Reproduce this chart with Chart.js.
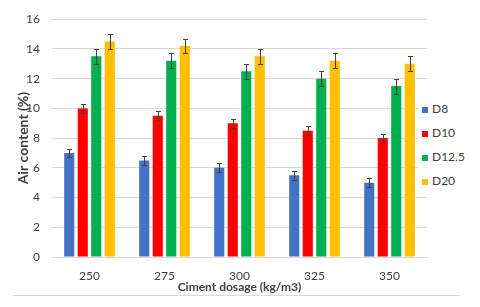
<!DOCTYPE html>
<html>
<head>
<meta charset="utf-8">
<script src="https://cdn.jsdelivr.net/npm/chart.js@4.4.1/dist/chart.umd.min.js"></script>
<style>
  html, body { margin: 0; padding: 0; background: #fff; }
  #wrap { position: relative; width: 480px; height: 307px; }
  #legend { position: absolute; left: 418px; top: 100px; background: #fff; width: 55px;
    font-family: Lato, "Liberation Sans", sans-serif; font-size: 12px; color: #404040; }
  #legend div { height: 24px; line-height: 18px; white-space: nowrap; }
  #legend span { display: inline-block; width: 6px; height: 6px; margin: 0 4px 0 4px; }
  #baseline { position: absolute; left: 13px; top: 295px; width: 447px; height: 1px; background: #d9d9d9; }
</style>
</head>
<body>
<div id="wrap">
  <canvas id="mycanvas" width="480" height="307"></canvas>
  <div id="legend"></div>
  <div id="baseline"></div>
</div>
<script>
var dosage = ['250', '275', '300', '325', '350'];
var seriesNames = ['D8', 'D10', 'D12.5', 'D20'];
var colors = ['#4472C4', '#FF0000', '#00B050', '#FFC000'];

var d8 = [7, 6.5, 6, 5.5, 5];
var d10 = [10, 9.5, 9, 8.5, 8];
var d125 = [13.5, 13.2, 12.5, 12, 11.5];
var d20 = [14.5, 14.2, 13.5, 13.2, 13];

var err8 = [0.3, 0.3, 0.3, 0.3, 0.3];
var err10 = [0.3, 0.3, 0.3, 0.3, 0.3];
var err125 = [0.5, 0.5, 0.5, 0.5, 0.5];
var err20 = [0.5, 0.5, 0.5, 0.5, 0.5];

var values = [d8, d10, d125, d20];
var errors = [err8, err10, err125, err20];

var font = 'Lato, "Liberation Sans", sans-serif';

// error bars drawn on top of bars
var errorBars = {
  id: 'errorBars',
  afterDatasetsDraw: function(chart) {
    var ctx = chart.ctx;
    var y = chart.scales.y;
    ctx.save();
    ctx.strokeStyle = '#404040';
    ctx.lineWidth = 1;
    chart.data.datasets.forEach(function(ds, i) {
      var meta = chart.getDatasetMeta(i);
      meta.data.forEach(function(bar, j) {
        var v = ds.data[j], e = errors[i][j];
        var x = Math.round(bar.x) + 0.5;
        var top = Math.round(y.getPixelForValue(v + e)) + 0.5;
        var bot = Math.round(y.getPixelForValue(v - e)) + 0.5;
        ctx.beginPath();
        ctx.moveTo(x, top); ctx.lineTo(x, bot);
        ctx.moveTo(x - 2.5, top); ctx.lineTo(x + 2.5, top);
        ctx.moveTo(x - 2.5, bot); ctx.lineTo(x + 2.5, bot);
        ctx.stroke();
      });
    });
    ctx.restore();
  }
};

var chartdata = {
  labels: dosage,
  datasets: seriesNames.map(function(name, i) {
    return {
      label: name,
      data: values[i],
      backgroundColor: colors[i],
      borderWidth: 0,
      categoryPercentage: 0.72,
      barPercentage: 0.75
    };
  })
};

var ctx = document.getElementById('mycanvas');
var barGraph = new Chart(ctx, {
  type: 'bar',
  data: chartdata,
  plugins: [errorBars],
  options: {
    responsive: false,
    animation: false,
    layout: { padding: { left: 15, right: 53, top: 14, bottom: 13 } },
    plugins: { legend: { display: false }, tooltip: { enabled: false } },
    scales: {
      x: {
        grid: { display: false, drawTicks: false },
        border: { color: '#d9d9d9' },
        ticks: { color: '#404040', font: { family: font, size: 12 }, padding: 12 },
        title: { display: true, text: 'Ciment dosage (kg/m3)', color: '#404040',
                 font: { family: font, size: 12, weight: 'bold' }, padding: { top: 0, bottom: 0 } },
        afterFit: function(s) { s.height = 37; }
      },
      y: {
        min: 0, max: 16,
        ticks: { stepSize: 2, color: '#404040', font: { family: font, size: 12 }, padding: 12 },
        grid: { color: '#d9d9d9', drawTicks: false },
        border: { display: false },
        title: { display: true, text: 'Air content (%)', color: '#404040',
                 font: { family: font, size: 14, weight: 'bold' }, padding: { top: 0, bottom: 0 } },
        afterFit: function(s) { s.width = 37; }
      }
    }
  }
});

var legend = document.getElementById('legend');
seriesNames.forEach(function(name, i) {
  var row = document.createElement('div');
  var sw = document.createElement('span');
  sw.style.background = colors[i];
  row.appendChild(sw);
  row.appendChild(document.createTextNode(name));
  legend.appendChild(row);
});
</script>
</body>
</html>
